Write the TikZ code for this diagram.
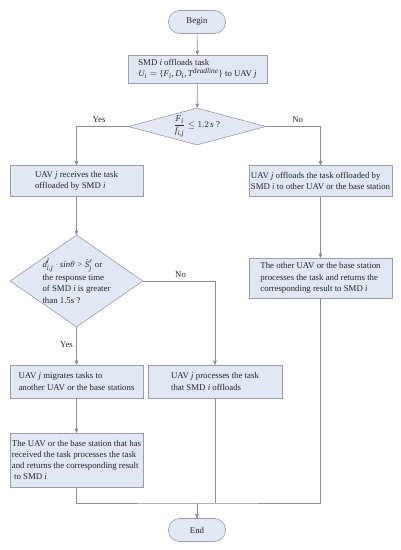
\documentclass[tikz,border=0pt]{standalone}
\usepackage{amsmath}
\usepackage{fontspec}
\setmainfont{Liberation Serif}
\usepackage[italic]{mathastext}
\usepackage{tikz}
\usetikzlibrary{arrows, shapes}

\definecolor{boxfill}{HTML}{E1E7F4}
\definecolor{boxline}{HTML}{9C9CA8}
\definecolor{flowline}{HTML}{8E8E8E}

\begin{document}
\begin{tikzpicture}[x=1bp, y=-1bp, ->,>=stealth', shorten >=0pt, auto,
 line width=0.6bp, draw=flowline,
 every node/.style={font=\fontsize{8.8bp}{11.3bp}\selectfont, text=black!85},
 process/.style={draw=boxline, fill=boxfill, rectangle, align=left, inner sep=1bp},
 terminal/.style={draw=boxline, fill=boxfill, rectangle, rounded corners=11bp,
                  minimum width=57bp, minimum height=23bp},
 decision/.style={draw=boxline, fill=boxfill, diamond, inner sep=0pt, align=left}]

  \useasboundingbox (0,0) rectangle (400,550);

  \node[terminal] (begin) at (197,22) {Begin};
  \node[process, minimum width=139bp, minimum height=28bp] (offload) at (197.5,69)
    {SMD $i$ offloads task\\$U_i=\{F_i,D_i,T^{deadline}\}$ to UAV $j$};
  \node[decision, minimum width=138bp, minimum height=37bp, aspect=3.7] (dec1) at (197,126.5)
    {$\dfrac{F_i}{f_{i,j}}\leq 1.2\,s$ ?};

  \node[process, minimum width=133bp, minimum height=31bp] (receive) at (76.5,181)
    {UAV $j$ receives the task\\offloaded by SMD $i$};
  \node[process, minimum width=143bp, minimum height=31bp] (forward) at (320.5,181)
    {UAV $j$ offloads the task offloaded by\\SMD $i$ to other UAV or the base station};

  \node[decision, minimum width=133bp, minimum height=92bp, aspect=1.45] (dec2) at (76.5,281)
    {$d^{l}_{i,j}\cdot sin\theta>\hat{S}^{r}_{j}$ or\\[1.5bp]the response time\\of SMD $i$ is greater\\than 1.5s ?};
  \node[process, minimum width=143bp, minimum height=40bp] (other) at (320.5,278)
    {The other UAV or the base station\\processes the task and returns the\\corresponding result to SMD $i$};

  \node[process, minimum width=133bp, minimum height=33bp] (migrate) at (76.5,381.5)
    {UAV $j$ migrates tasks to\\another UAV or the base stations};
  \node[process, minimum width=134bp, minimum height=33bp] (process) at (215,381.5)
    {UAV $j$ processes the task\\that SMD $i$ offloads};
  \node[process, minimum width=133bp, minimum height=54bp] (received) at (76.5,460)
    {The UAV or the base station that has\\received the task processes the task\\and returns the corresponding result\\\ to SMD $i$};

  \node[terminal] (end) at (197,530) {End};
  \coordinate (merge) at (197,503);

  \path
    (begin) edge (offload)
    (offload) edge (dec1)
    (receive) edge (dec2)
    (forward) edge (other)
    (migrate) edge (received)
    (dec2.south) edge node[left, pos=0.47] {Yes} (migrate)
    (merge) edge (end);

  \draw (dec1.west) -| node[above, pos=0.28] {Yes} (receive.north);
  \draw (dec1.east) -| node[above, pos=0.29] {No} (forward.north);
  \draw (dec2.east) -| node[above, pos=0.26] {No} (process.north);

  \draw[-] (received.south) |- (merge) -| (other.south);
  \draw[-] (process.south) -- (process.south |- merge);
\end{tikzpicture}
\end{document}
